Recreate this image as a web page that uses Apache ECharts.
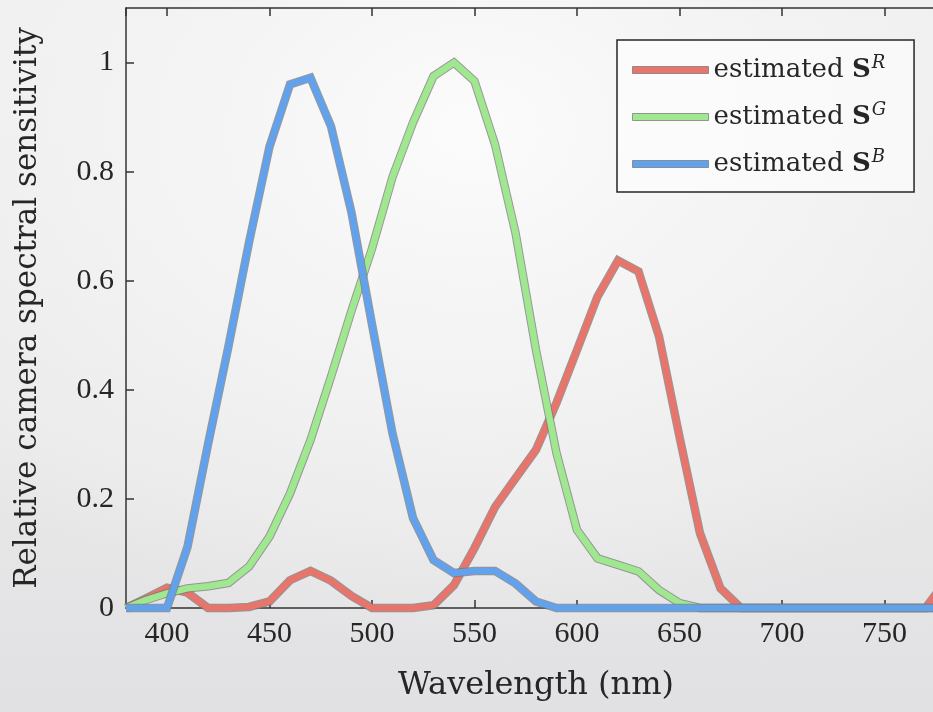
<!DOCTYPE html>
<html>
<head>
<meta charset="utf-8">
<script src="https://cdn.jsdelivr.net/npm/echarts@6/dist/echarts.min.js"></script>
<style>
	html, body { margin: 0; padding: 0; }
	#chart {
		width: 933px; height: 712px;
		background:
			radial-gradient(ellipse 700px 520px at 470px 130px, #fbfbfb 0%, #f3f3f4 45%, rgba(226,226,229,0) 100%),
			linear-gradient(180deg, #eeeeef 0%, #e9e9ea 60%, #e1e1e3 100%);
	}
</style>
</head>
<body>
<div id="chart"></div>
<script>
	// wavelength samples (nm)
	var wavelength = [380, 390, 400, 410, 420, 430, 440, 450, 460, 470,
		480, 490, 500, 510, 520, 530, 540, 550, 560, 570,
		580, 590, 600, 610, 620, 630, 640, 650, 660, 670,
		680, 690, 700, 710, 720, 730, 740, 750, 760, 770, 780];

	var sensR = [0, 0.018, 0.037, 0.028, 0, 0, 0.002, 0.012, 0.051, 0.068,
		0.05, 0.022, 0, 0, 0, 0.005, 0.042, 0.11, 0.185, 0.238,
		0.29, 0.376, 0.473, 0.571, 0.637, 0.617, 0.498, 0.314, 0.137, 0.036,
		0, 0, 0, 0, 0, 0, 0, 0, 0, 0, 0.05];

	var sensG = [0, 0.015, 0.027, 0.036, 0.04, 0.046, 0.076, 0.131, 0.21, 0.308,
		0.424, 0.545, 0.659, 0.79, 0.89, 0.975, 1.0, 0.966, 0.85, 0.688,
		0.473, 0.284, 0.143, 0.091, 0.079, 0.067, 0.033, 0.009, 0, 0,
		0, 0, 0, 0, 0, 0, 0, 0, 0, 0, 0];

	var sensB = [0, 0, 0, 0.112, 0.30, 0.48, 0.67, 0.846, 0.96, 0.972,
		0.883, 0.725, 0.52, 0.32, 0.165, 0.088, 0.064, 0.068, 0.068, 0.045,
		0.012, 0, 0, 0, 0, 0, 0, 0, 0, 0,
		0, 0, 0, 0, 0, 0, 0, 0, 0, 0, 0];

	var seriesNames = ['SR', 'SG', 'SB'];
	var seriesSup = ['R', 'G', 'B'];
	var seriesColors = ['#e8756b', '#9fe88f', '#62a2ec'];
	var seriesValues = [sensR, sensG, sensB];

	var textColor = '#262626';
	var tickFont = '"Liberation Serif", "DejaVu Serif", serif';
	var titleFont = '"DejaVu Serif", serif';

	function pairs(vals) {
		return wavelength.map(function (w, i) { return [w, vals[i]]; });
	}

	var series = [];
	seriesValues.forEach(function (vals, i) {
		// thin grey edge under each line
		series.push({
			name: seriesNames[i] + '_edge',
			type: 'line',
			data: pairs(vals),
			symbol: 'none',
			clip: false,
			silent: true,
			lineStyle: { color: 'rgba(120,120,120,0.75)', width: 8.5, join: 'miter' }
		});
		series.push({
			name: seriesNames[i],
			type: 'line',
			data: pairs(vals),
			symbol: 'none',
			clip: false,
			itemStyle: { color: seriesColors[i] },
			lineStyle: { color: seriesColors[i], width: 6.5, join: 'miter' }
		});
	});

	var myChart = echarts.init(document.getElementById('chart'));

	var option = {
		animation: false,
		grid: {
			left: 126, top: 8, right: -13, bottom: 104,
			outerBoundsMode: 'none',
			containLabel: false
		},
		legend: {
			data: seriesNames,
			orient: 'vertical',
			left: 617, top: 40,
			icon: 'rect',
			itemWidth: 76, itemHeight: 7,
			itemGap: 15,
			padding: [14, 28, 12, 15],
			itemStyle: { borderColor: 'rgba(120,120,120,0.75)', borderWidth: 1 },
			backgroundColor: 'rgba(255,255,255,0.55)',
			borderColor: textColor,
			borderWidth: 1.5,
			borderRadius: 0,
			formatter: function (name) {
				var k = seriesNames.indexOf(name);
				return 'estimated {b|S}{s|' + seriesSup[k] + '}';
			},
			textStyle: {
				color: textColor, fontFamily: titleFont, fontSize: 26, lineHeight: 32,
				rich: {
					b: { fontFamily: titleFont, fontSize: 26, fontWeight: 'bold', color: textColor, lineHeight: 32 },
					s: { fontFamily: titleFont, fontSize: 18, fontStyle: 'italic', color: textColor, verticalAlign: 'top', lineHeight: 32, padding: [0, 0, 12, 1] }
				}
			}
		},
		xAxis: [{
			type: 'value',
			min: 380, max: 780,
			splitNumber: 8, minInterval: 50, maxInterval: 50,
			name: 'Wavelength (nm)',
			nameLocation: 'middle',
			nameGap: 62,
			nameTextStyle: { color: textColor, fontFamily: titleFont, fontSize: 32 },
			axisLine: { show: true, onZero: false, lineStyle: { color: '#333', width: 1.5 } },
			axisTick: { show: true, inside: true, length: 8, lineStyle: { color: '#333', width: 1.5 } },
			axisLabel: {
				color: textColor, fontFamily: tickFont, fontSize: 30, margin: 11,
				showMinLabel: false, showMaxLabel: false,
				formatter: function (v) { return v % 50 === 0 ? String(v) : ''; }
			},
			splitLine: { show: false }
		}, {
			type: 'value',
			position: 'top',
			min: 380, max: 780,
			splitNumber: 8, minInterval: 50, maxInterval: 50,
			axisLine: { show: true, onZero: false, lineStyle: { color: '#333', width: 1.5 } },
			axisTick: { show: true, inside: true, length: 8, lineStyle: { color: '#333', width: 1.5 } },
			axisLabel: { show: false },
			splitLine: { show: false }
		}],
		yAxis: {
			type: 'value',
			min: 0, max: 1.1, interval: 0.2,
			name: 'Relative camera spectral sensitivity',
			nameLocation: 'middle',
			nameGap: 83,
			nameTextStyle: { color: textColor, fontFamily: titleFont, fontSize: 31 },
			axisLine: { show: true, lineStyle: { color: '#333', width: 1.5 } },
			axisTick: { show: true, inside: true, length: 8, lineStyle: { color: '#333', width: 1.5 } },
			axisLabel: {
				color: textColor, fontFamily: tickFont, fontSize: 30, margin: 12,
				showMaxLabel: false
			},
			splitLine: { show: false }
		},
		series: series
	};

	myChart.setOption(option);
</script>
</body>
</html>
